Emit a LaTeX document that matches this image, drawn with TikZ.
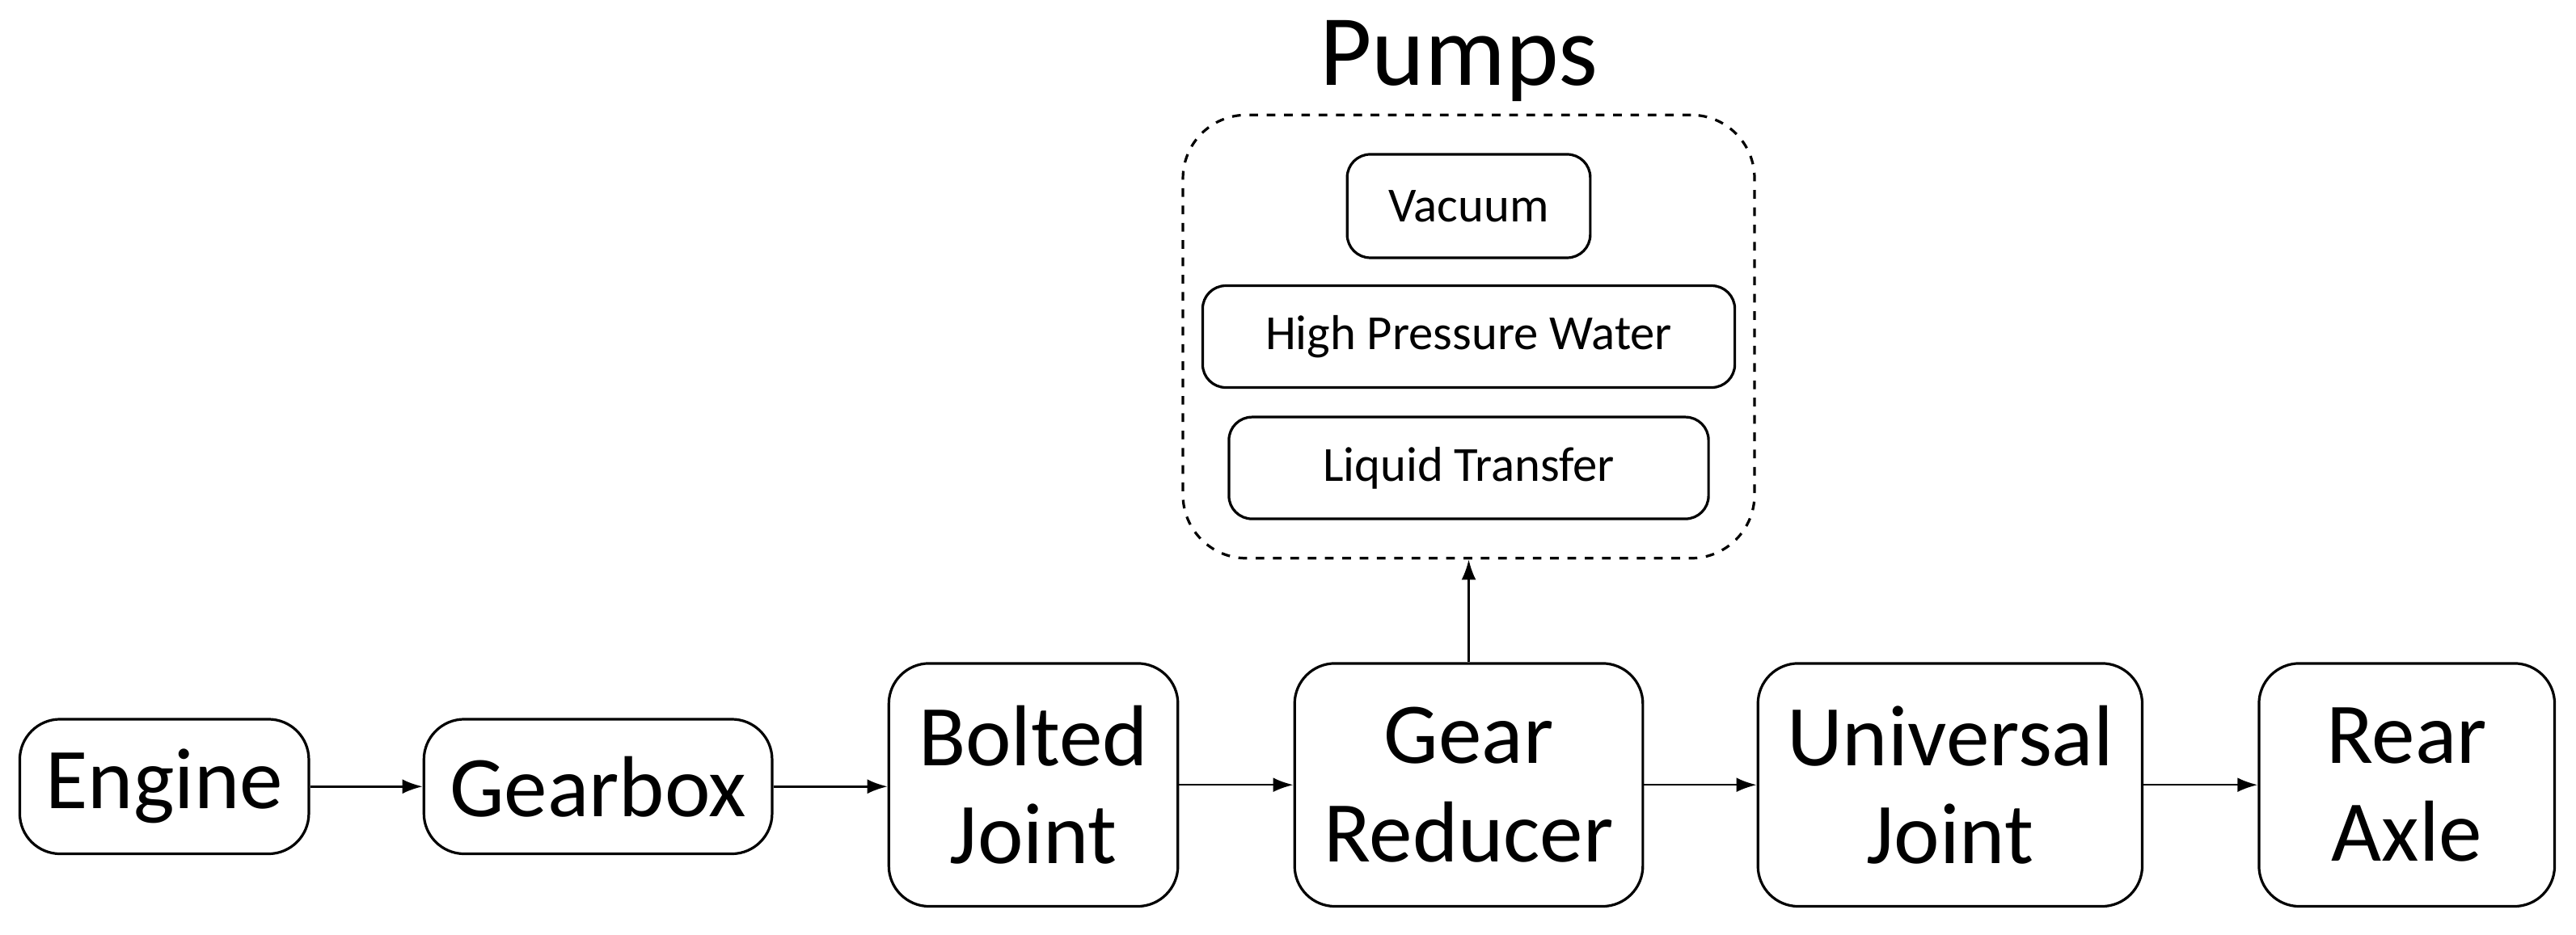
\documentclass[tikz,border=0pt]{standalone}
\usepackage{fontspec}
\setmainfont{Carlito}
\usetikzlibrary{arrows.meta}
\begin{document}
\begin{tikzpicture}[x=0.02cm,y=0.02cm,
  box/.style={draw,rounded corners=14pt,line width=0.9pt,align=center,inner sep=0pt,font=\fontsize{30}{34}\selectfont},
  sbox/.style={draw,rounded corners=8pt,line width=0.9pt,align=center,inner sep=0pt,font=\fontsize{17}{20}\selectfont},
  arr/.style={-{Latex[length=7pt,width=5pt]},line width=0.7pt}]
\useasboundingbox (0,0) rectangle (1568,569.4);
\def\Y#1{569.4-#1}
\node[box,minimum width=176\pgfkeysvalueof{/tikz/x}, minimum width=3.52cm,minimum height=1.64cm] (eng) at (100,{\Y{479}}) {Engine};
\node[box,minimum width=4.24cm,minimum height=1.64cm] (gb) at (364,{\Y{479}}) {Gearbox};
\node[box,minimum width=3.52cm,minimum height=2.96cm] (bj) at (629,{\Y{478}}) {Bolted\\Joint};
\node[box,minimum width=4.24cm,minimum height=2.96cm] (gr) at (894,{\Y{478}}) {Gear\\Reducer};
\node[box,minimum width=4.68cm,minimum height=2.96cm] (uj) at (1187,{\Y{478}}) {Universal\\Joint};
\node[box,minimum width=3.6cm,minimum height=2.96cm] (ra) at (1465,{\Y{478}}) {Rear\\Axle};
\node[draw,dashed,rounded corners=22pt,line width=0.9pt,minimum width=6.96cm,minimum height=5.4cm,inner sep=0pt] (pumps) at (894,{\Y{205}}) {};
\node[font=\fontsize{35}{40}\selectfont,anchor=base] (pt) at (888,{\Y{52}}) {Pumps};
\node[sbox,minimum width=2.96cm,minimum height=1.26cm] (vac) at (894,{\Y{125.5}}) {Vacuum};
\node[sbox,minimum width=6.48cm,minimum height=1.24cm] (hpw) at (894,{\Y{205}}) {High Pressure Water};
\node[sbox,minimum width=5.84cm,minimum height=1.24cm] (lt) at (894,{\Y{285}}) {Liquid Transfer};
\draw[arr] (eng) -- (gb);
\draw[arr] (gb.east) -- (gb.east -| bj.west);
\draw[arr] (bj.east) -- (gr.west);
\draw[arr] (gr) -- (uj);
\draw[arr] (uj) -- (ra);
\draw[arr] (gr.north) -- (pumps.south);
\end{tikzpicture}
\end{document}
